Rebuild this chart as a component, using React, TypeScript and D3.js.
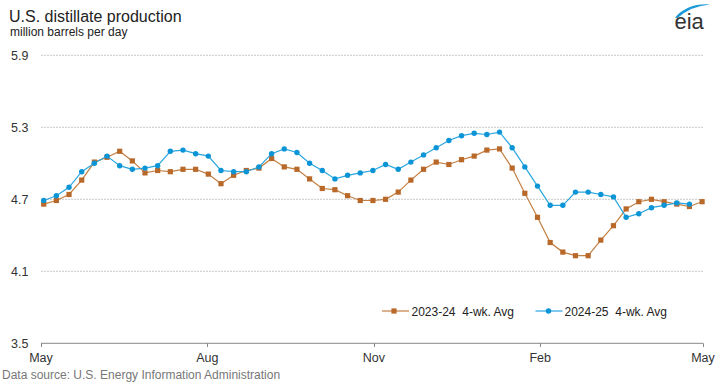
import React from "react";
import * as d3 from "d3";

const series2324: number[] = [
  4.66, 4.69, 4.74, 4.86, 5.01, 5.05, 5.10, 5.02, 4.92, 4.94,
  4.93, 4.95, 4.95, 4.91, 4.83, 4.90, 4.94, 4.96, 5.04, 4.97,
  4.95, 4.87, 4.79, 4.78, 4.73, 4.69, 4.69, 4.70, 4.76, 4.86,
  4.95, 5.01, 4.99, 5.03, 5.06, 5.11, 5.12, 4.96, 4.75, 4.55,
  4.34, 4.26, 4.23, 4.23, 4.36, 4.48, 4.62, 4.68, 4.70, 4.68,
  4.66, 4.64, 4.68,
];

const series2425: number[] = [
  4.69, 4.73, 4.80, 4.93, 5.00, 5.06, 4.98, 4.95, 4.96, 4.98,
  5.10, 5.11, 5.08, 5.06, 4.94, 4.93, 4.93, 4.97, 5.08, 5.12,
  5.09, 5.00, 4.94, 4.87, 4.90, 4.92, 4.94, 4.99, 4.95, 5.01,
  5.07, 5.13, 5.19, 5.23, 5.25, 5.24, 5.26, 5.13, 4.97, 4.81,
  4.65, 4.65, 4.76, 4.76, 4.74, 4.72, 4.55, 4.58, 4.63, 4.65,
  4.67, 4.66,
];

const yTicks: number[] = [3.5, 4.1, 4.7, 5.3, 5.9];
const xTickLabels: string[] = ["May", "Aug", "Nov", "Feb", "May"];
const xTickDates: Date[] = [
  new Date(2023, 4, 1),
  new Date(2023, 7, 1),
  new Date(2023, 10, 1),
  new Date(2024, 1, 1),
  new Date(2024, 4, 1),
];
const firstWeek = new Date(2023, 4, 2, 12);
const legendLabels: string[] = ["2023-24  4-wk. Avg", "2024-25  4-wk. Avg"];

const W = 719;
const H = 384;
const BROWN = "#b8692a";
const BROWN_LINE = "#c47f42";
const BLUE = "#0c95d6";
const BLUE_LINE = "#2aa6df";
const FONT = "'Liberation Sans', Arial, sans-serif";

export default function App() {
  const x = d3
    .scaleTime()
    .domain([xTickDates[0], xTickDates[xTickDates.length - 1]])
    .range([41, 703]);
  const y = d3.scaleLinear().domain([3.5, 5.9]).range([343.3, 55.3]);

  const weekDate = (i: number) => d3.timeDay.offset(firstWeek, i * 7);

  const line = d3
    .line<number>()
    .x((_, i) => x(weekDate(i)))
    .y((d) => y(d));

  return (
    <svg
      width={W}
      height={H}
      style={{ position: "absolute", left: 0, top: 0, display: "block" }}
      fontFamily={FONT}
    >
      <rect width={W} height={H} fill="#ffffff" />
      {/* title */}
      <text x={9} y={22} fontSize={16} fill="#222">
        U.S. distillate production
      </text>
      <text x={10} y={36} fontSize={12} fill="#222">
        million barrels per day
      </text>

      {/* logo */}
      <path d="M675,17.5 Q688,3 710,4.5 Q691,6 677.5,18 Z" fill="#1a9ad6" />
      <text x={674.5} y={28.5} fontSize={22} fill="#333" fontWeight={500}>
        eia
      </text>

      {/* gridlines */}
      {yTicks.map((t) =>
        t === 3.5 ? null : (
          <line
            key={"g" + t}
            x1={41}
            x2={703}
            y1={y(t)}
            y2={y(t)}
            stroke="#c8c8c8"
            strokeWidth={1}
            strokeDasharray="2,1"
          />
        )
      )}
      {/* y labels */}
      {yTicks.map((t) => (
        <text
          key={"yl" + t}
          x={11}
          y={y(t)}
          dy="0.35em"
          fontSize={12.5}
          fill="#333"
        >
          {t.toFixed(1)}
        </text>
      ))}

      {/* x axis */}
      <line x1={41} x2={703} y1={343.3} y2={343.3} stroke="#888" strokeWidth={1} />
      {xTickDates.map((d, i) => (
        <g key={"xt" + i}>
          <line
            x1={Math.round(x(d)) + 0.5}
            x2={Math.round(x(d)) + 0.5}
            y1={343.3}
            y2={347}
            stroke="#888"
          />
          <text
            x={x(d)}
            y={362}
            fontSize={12.5}
            fill="#333"
            textAnchor="middle"
          >
            {xTickLabels[i]}
          </text>
        </g>
      ))}

      {/* series 2023-24 */}
      <path d={line(series2324) || ""} fill="none" stroke={BROWN_LINE} strokeWidth={1.2} />
      {series2324.map((v, i) => (
        <rect
          key={"b" + i}
          x={x(weekDate(i)) - 2.6}
          y={y(v) - 2.6}
          width={5.2}
          height={5.2}
          fill={BROWN}
        />
      ))}

      {/* series 2024-25 */}
      <path d={line(series2425) || ""} fill="none" stroke={BLUE_LINE} strokeWidth={1.2} />
      {series2425.map((v, i) => (
        <circle key={"c" + i} cx={x(weekDate(i))} cy={y(v)} r={2.7} fill={BLUE} />
      ))}

      {/* legend */}
      <line x1={382} x2={409} y1={311} y2={311} stroke={BROWN_LINE} strokeWidth={1.2} />
      <rect x={394 - 2.6} y={311 - 2.6} width={5.2} height={5.2} fill={BROWN} />
      <text x={411.5} y={315.5} fontSize={12} fill="#222" style={{ whiteSpace: "pre" }}>
        {legendLabels[0]}
      </text>
      <line x1={535.5} x2={562.5} y1={311} y2={311} stroke={BLUE_LINE} strokeWidth={1.2} />
      <circle cx={548.5} cy={311} r={2.7} fill={BLUE} />
      <text x={564.5} y={315.5} fontSize={12} fill="#222" style={{ whiteSpace: "pre" }}>
        {legendLabels[1]}
      </text>

      {/* source */}
      <text x={2} y={379} fontSize={12} fill="#777">
        Data source: U.S. Energy Information Administration
      </text>
    </svg>
  );
}
